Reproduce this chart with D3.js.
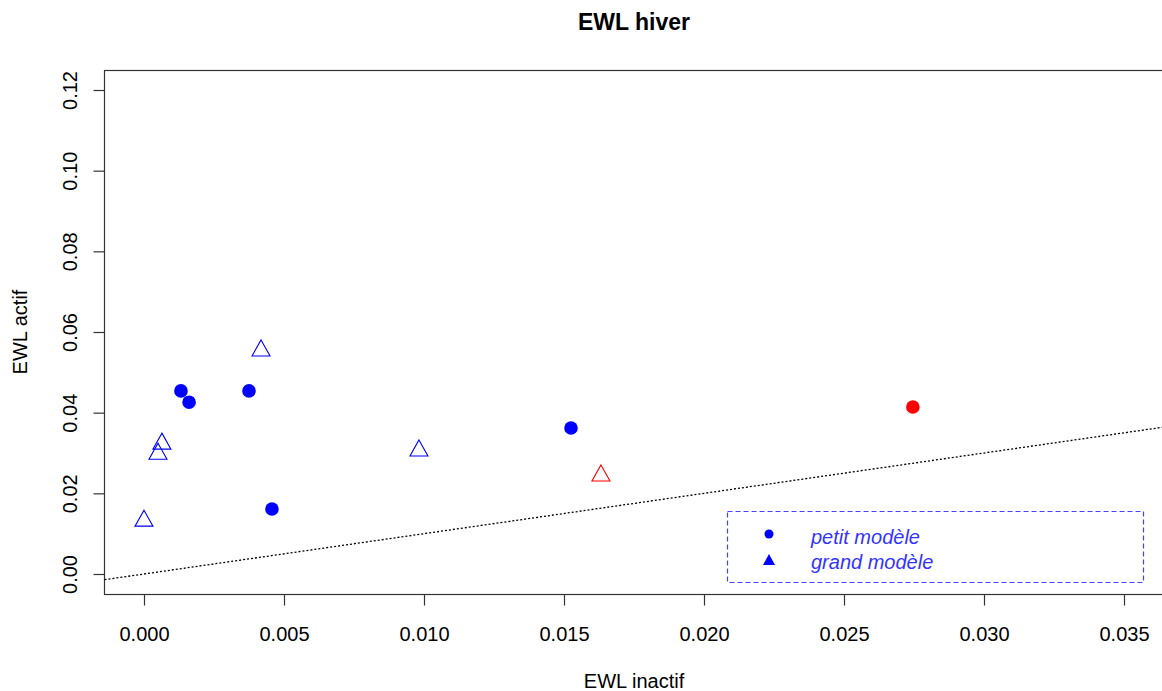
<!DOCTYPE html>
<meta charset='utf-8'>
<head>
  <style>
    body { margin: 0; background: #fff; }
    text { font-family: 'Liberation Sans', Arial, sans-serif; }
  </style>
</head>
<body>
<script src='https://d3js.org/d3.v7.min.js'></script>
<script>

// petit modele (circles) and grand modele (triangles)
var petitX = [0.00132, 0.00161, 0.00375, 0.00457, 0.01525, 0.02746];
var petitY = [0.0454, 0.0426, 0.0454, 0.0161, 0.0362, 0.0414];
var petitColor = ['blue', 'blue', 'blue', 'blue', 'blue', 'red'];

var grandX = [0.0000, 0.0005, 0.00064, 0.00418, 0.00982, 0.01632];
var grandY = [0.0136, 0.0302, 0.0327, 0.0558, 0.0310, 0.0248];
var grandColor = ['blue', 'blue', 'blue', 'blue', 'blue', 'red'];

var xTicks = [0, 0.005, 0.010, 0.015, 0.020, 0.025, 0.030, 0.035];
var yTicks = [0, 0.02, 0.04, 0.06, 0.08, 0.10, 0.12];
var legendLabels = ['petit modèle', 'grand modèle'];

var W = 1162, H = 691;
var box = {left: 104.5, top: 70.5, right: 1163, bottom: 594.5};

var x = d3.scaleLinear().domain([0, 0.035]).range([144, 1124]);
var y = d3.scaleLinear().domain([0, 0.12]).range([574, 90]);

var svg = d3.select('body').append('svg')
    .attr('width', W)
    .attr('height', H);

svg.append('text')
    .attr('x', 634).attr('y', 30)
    .attr('text-anchor', 'middle')
    .style('font-size', '23px').style('font-weight', 'bold')
    .text('EWL hiver');

// plot box
svg.append('rect')
    .attr('x', box.left).attr('y', box.top)
    .attr('width', box.right - box.left).attr('height', box.bottom - box.top)
    .attr('fill', 'none').attr('stroke', '#333').attr('stroke-width', 1.2);

var xAxis = svg.append('g')
    .attr('transform', 'translate(0,' + box.bottom + ')')
    .call(d3.axisBottom(x).tickValues(xTicks).tickFormat(d3.format('.3f'))
      .tickSize(11).tickPadding(21));
xAxis.select('.domain').remove();
xAxis.selectAll('line').attr('stroke', '#333').attr('stroke-width', 1.2);
xAxis.selectAll('text').style('font-size', '20px').attr('fill', '#000');

var yAxis = svg.append('g')
    .attr('transform', 'translate(' + box.left + ',0)')
    .call(d3.axisLeft(y).tickValues(yTicks).tickFormat(d3.format('.2f'))
      .tickSize(11));
yAxis.select('.domain').remove();
yAxis.selectAll('line').attr('stroke', '#333').attr('stroke-width', 1.2);
yAxis.selectAll('text')
    .style('font-size', '20px').attr('fill', '#000')
    .attr('x', null).attr('y', null)
    .attr('dy', '0.35em')
    .attr('text-anchor', 'middle')
    .attr('transform', 'translate(-34.5,0) rotate(-90)');

svg.append('text')
    .attr('x', 634).attr('y', 688)
    .attr('text-anchor', 'middle')
    .style('font-size', '20px')
    .text('EWL inactif');

svg.append('text')
    .attr('transform', 'translate(27,332) rotate(-90)')
    .attr('text-anchor', 'middle')
    .style('font-size', '20px')
    .text('EWL actif');

var plot = svg.append('g');
svg.append('clipPath').attr('id', 'clip')
  .append('rect')
    .attr('x', box.left).attr('y', box.top)
    .attr('width', box.right - box.left).attr('height', box.bottom - box.top);
plot.attr('clip-path', 'url(#clip)');

// y = x reference line
var lo = x.invert(box.left), hi = x.invert(box.right);
plot.append('line')
    .attr('x1', x(lo)).attr('y1', y(lo))
    .attr('x2', x(hi)).attr('y2', y(hi))
    .attr('stroke', '#000').attr('stroke-width', 1.3)
    .attr('stroke-dasharray', '2,2');

plot.selectAll('.grand')
    .data(grandX.map((d, i) => ({x: d, y: grandY[i], c: grandColor[i]})))
  .enter().append('path')
    .attr('d', 'M0,-9 L9,7 L-9,7 Z')
    .attr('transform', d => 'translate(' + x(d.x) + ',' + y(d.y) + ')')
    .attr('fill', 'none')
    .attr('stroke', d => d.c)
    .attr('stroke-width', 1.1);

plot.selectAll('.petit')
    .data(petitX.map((d, i) => ({x: d, y: petitY[i], c: petitColor[i]})))
  .enter().append('circle')
    .attr('cx', d => x(d.x)).attr('cy', d => y(d.y))
    .attr('r', 6.8)
    .attr('fill', d => d.c);

// legend
var lg = svg.append('g');
lg.append('rect')
    .attr('x', 727.5).attr('y', 511.5)
    .attr('width', 416).attr('height', 71)
    .attr('fill', 'none').attr('stroke', '#4444ff').attr('stroke-width', 1.2)
    .attr('stroke-dasharray', '5,3');
lg.append('circle').attr('cx', 769).attr('cy', 534).attr('r', 4.5).attr('fill', 'blue');
lg.append('path').attr('d', 'M0,-6 L6,5 L-6,5 Z')
    .attr('transform', 'translate(769,560)').attr('fill', 'blue');
lg.selectAll('.lt')
    .data(legendLabels)
  .enter().append('text')
    .attr('x', 811)
    .attr('y', (d, i) => 544 + i * 25)
    .style('font-size', '20px').style('font-style', 'italic')
    .attr('fill', '#3333ff')
    .text(d => d);

</script>
</body>
